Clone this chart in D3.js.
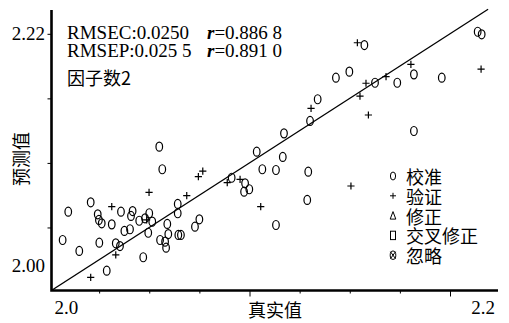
<!DOCTYPE html>
<html><head><meta charset="utf-8">
<script src="https://cdn.jsdelivr.net/npm/d3@7"></script>
<style>body{margin:0;background:#fff}svg{display:block}</style>
</head><body>
<svg id="chart" width="509" height="323"></svg>
<script>
// 校准 (calibration) set: true value, predicted value
const calTrue = [2.0068,2.0096,2.0151,2.0208,2.0243,2.0249,2.0263,2.0251,2.0288,2.0313,
  2.0333,2.0354,2.0359,2.0376,2.0404,2.0409,2.0417,2.0450,2.0470,2.0479,
  2.0495,2.0500,2.0515,2.0550,2.0565,2.0554,2.0579,2.0584,2.0590,2.0595,
  2.0642,2.0642,2.0645,2.0658,2.0728,2.0750,2.0911,2.0978,2.0999,2.0973,
  2.1036,2.1064,2.1132,2.1132,2.1172,2.1166,2.1293,2.1288,2.1302,2.1340,
  2.1431,2.1498,2.1573,2.1626,2.1737,2.1820,2.1959,2.1820,2.2138,2.2158];
const calPred = [2.0403,2.0622,2.0318,2.0695,2.0602,2.0558,2.0532,2.0382,2.0165,2.0524,
  2.0377,2.0356,2.0622,2.0473,2.0486,2.0589,2.0627,2.0552,2.0269,2.0571,
  2.0459,2.0610,2.0545,2.1126,2.0951,2.0403,2.0390,2.0343,2.0527,2.0449,
  2.0682,2.0610,2.0442,2.0442,2.0506,2.0563,2.0885,2.0842,2.0796,2.0777,
  2.1087,2.0951,2.0945,2.0519,2.1229,2.1046,2.0932,2.0713,2.1325,2.1493,
  2.1660,2.1707,2.1913,2.1621,2.1621,2.1686,2.1660,2.1247,2.2016,2.1996];
// 验证 (validation) set
const valTrue = [2.0208,2.0333,2.0313,2.0499,2.0487,2.0687,2.0745,2.0767,2.0889,2.0953,
  2.1056,2.1307,2.1506,2.1538,2.1551,2.1581,2.1593,2.1681,2.1805,2.2155];
const valPred = [2.0114,2.0287,2.0661,2.0772,2.0558,2.0746,2.0893,2.0937,2.0847,2.0873,
  2.0661,2.1423,2.0821,2.1931,2.1518,2.1617,2.1371,2.1668,2.1764,2.1727];

const xEndLabels = ["2.0", "2.2"];
const yLabelText = ["2.22", "2.00"];
const yLabelValue = [2.20, 2.02];
const yTickValues = [2.05, 2.10, 2.15, 2.20];
const xMinorTicks = [2.025, 2.05, 2.075, 2.125, 2.15, 2.175];
const xMajorTicks = [2.1, 2.2];
const statLines = [["RMSEC:0.0250", "=0.886 8"], ["RMSEP:0.025 5", "=0.891 0"]];
const factorText = "因子数2";
const legendNames = ["校准", "验证", "修正", "交叉修正", "忽略"];
const xTitle = "真实值", yTitle = "预测值";

const svg = d3.select("#chart");
const serif = "'Liberation Serif','Times New Roman',serif";
const cjk = "'Noto Sans CJK SC','Noto Sans',sans-serif";

const x = d3.scaleLinear().domain([2.0, 2.2]).range([49, 450]);
const y = d3.scaleLinear().domain([2.0, 2.22]).range([292, 8]);
const axL = 51.5, axB = 290.5, axR = 498, axT = 10;

// clip
svg.append("clipPath").attr("id", "clip").append("rect")
  .attr("x", axL).attr("y", 0).attr("width", axR - axL).attr("height", axB);

// diagonal y = x
svg.append("line").attr("clip-path", "url(#clip)")
  .attr("x1", x(2.0)).attr("y1", y(2.0)).attr("x2", x(2.219)).attr("y2", y(2.219))
  .attr("stroke", "#000").attr("stroke-width", 1.3);

// axes ticks
const gx1 = svg.append("g").attr("transform", `translate(0,${axB})`)
  .call(d3.axisBottom(x).tickValues(xMinorTicks).tickSize(3).tickFormat(""));
const gx2 = svg.append("g").attr("transform", `translate(0,${axB})`)
  .call(d3.axisBottom(x).tickValues(xMajorTicks).tickSize(6).tickFormat(""));
const gy = svg.append("g").attr("transform", `translate(${axL},0)`)
  .call(d3.axisLeft(y).tickValues(yTickValues).tickSize(4).tickFormat(""));
[gx1, gx2, gy].forEach(g => { g.select(".domain").remove(); g.selectAll("line").attr("stroke", "#000").attr("stroke-width", 1); });

// axis lines
svg.append("path").attr("d", `M${axL},${axT}V${axB}H${axR}`)
  .attr("fill", "none").attr("stroke", "#000").attr("stroke-width", 2.6);

// x end labels
svg.append("text").attr("x", axL + 3).attr("y", 314).text(xEndLabels[0])
  .attr("font-family", serif).attr("font-size", 19);
svg.append("text").attr("x", axR - 3).attr("y", 314).attr("text-anchor", "end").text(xEndLabels[1])
  .attr("font-family", serif).attr("font-size", 19);
// y labels
yLabelText.forEach((t, i) => {
  svg.append("text").attr("x", 45).attr("y", y(yLabelValue[i]) + 6).attr("text-anchor", "end")
    .attr("font-family", serif).attr("font-size", 19).text(t);
});

// titles
svg.append("text").attr("x", 275).attr("y", 309).attr("text-anchor", "middle")
  .attr("dominant-baseline", "central").attr("font-family", cjk).attr("font-size", 18).text(xTitle);
svg.append("text").attr("transform", "translate(20,159) rotate(-90)").attr("text-anchor", "middle")
  .attr("dominant-baseline", "central").attr("font-family", cjk).attr("font-size", 18).text(yTitle);

// stats text
statLines.forEach((s, i) => {
  const by = 39 + i * 18;
  svg.append("text").attr("x", 67).attr("y", by).attr("font-family", serif).attr("font-size", 19).text(s[0]);
  const t = svg.append("text").attr("x", 207).attr("y", by).attr("font-family", serif).attr("font-size", 19);
  t.append("tspan").attr("font-style", "italic").attr("font-weight", "bold").text("r");
  t.append("tspan").text(s[1]);
});
svg.append("text").attr("x", 67).attr("y", 77).attr("dominant-baseline", "central")
  .attr("font-family", cjk).attr("font-size", 18).text(factorText);

// markers
const cal = calTrue.map((v, i) => [v, calPred[i]]);
const val = valTrue.map((v, i) => [v, valPred[i]]);
svg.append("g").selectAll("ellipse").data(cal).join("ellipse")
  .attr("cx", d => x(d[0])).attr("cy", d => y(d[1])).attr("rx", 3.3).attr("ry", 4.5)
  .attr("fill", "none").attr("stroke", "#000").attr("stroke-width", 1.2);
const pl = 3.6;
svg.append("g").selectAll("path").data(val).join("path")
  .attr("d", d => `M${x(d[0]) - pl},${y(d[1])}h${2 * pl}M${x(d[0])},${y(d[1]) - pl}v${2 * pl}`)
  .attr("stroke", "#000").attr("stroke-width", 1.2);

// legend
const lg = svg.append("g");
legendNames.forEach((name, i) => {
  const cy = 176 + i * 19.8, cx = 393;
  const g = lg.append("g").attr("stroke", "#000").attr("fill", "none").attr("stroke-width", 1);
  if (i === 0) g.append("ellipse").attr("cx", cx).attr("cy", cy).attr("rx", 2.6).attr("ry", 4);
  if (i === 1) g.append("path").attr("d", `M${cx - 3},${cy}h6M${cx},${cy - 3}v6`);
  if (i === 2) g.append("path").attr("d", `M${cx},${cy - 4}L${cx + 2.8},${cy + 3.5}H${cx - 2.8}Z`);
  if (i === 3) g.append("rect").attr("x", cx - 2.5).attr("y", cy - 4.2).attr("width", 5).attr("height", 8.4);
  if (i === 4) {
    g.append("ellipse").attr("cx", cx).attr("cy", cy).attr("rx", 2.8).attr("ry", 4.2);
    g.append("path").attr("d", `M${cx - 2.6},${cy - 3.6}L${cx + 2.6},${cy + 3.6}M${cx + 2.6},${cy - 3.6}L${cx - 2.6},${cy + 3.6}`);
  }
  lg.append("text").attr("x", 406).attr("y", cy).attr("dominant-baseline", "central")
    .attr("font-family", cjk).attr("font-size", 18).text(name);
});
</script>
</body></html>
